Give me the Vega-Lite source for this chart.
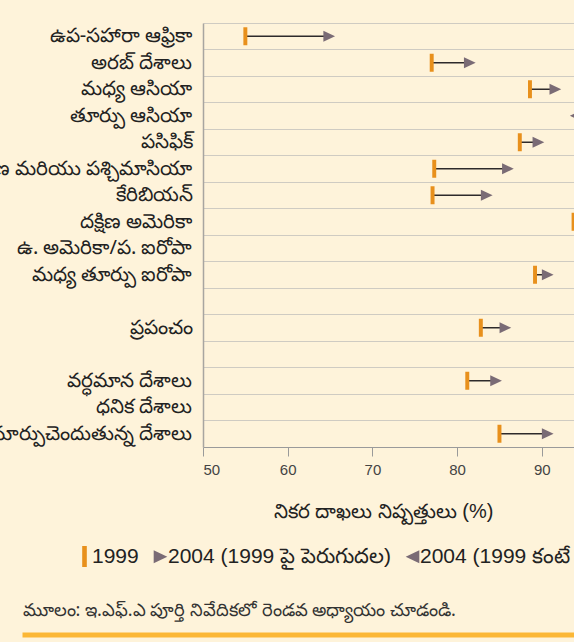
{
  "$schema": "https://vega.github.io/schema/vega-lite/v6.json",
  "width": 371,
  "height": 424,
  "autosize": {"type": "none"},
  "padding": {"left": 203, "top": 23, "right": 0, "bottom": 195},
  "background": "#FEF3DA",
  "config": {"view": {"stroke": null}, "font": "Liberation Sans"},
  "data": {
    "values": [
      {"region": "ఉప-సహారా ఆఫ్రికా", "v1999": 55.0, "v2004": 64.9, "change": "2004 (1999 పై పెరుగుదల)"},
      {"region": "అరబ్ దేశాలు", "v1999": 77.0, "v2004": 81.5, "change": "2004 (1999 పై పెరుగుదల)"},
      {"region": "మధ్య ఆసియా", "v1999": 88.6, "v2004": 91.6, "change": "2004 (1999 పై పెరుగుదల)"},
      {"region": "తూర్పు ఆసియా", "v1999": 96.5, "v2004": 94.0, "change": "2004 (1999 కంటే తగ్గుదల)"},
      {"region": "పసిఫిక్", "v1999": 87.4, "v2004": 89.6, "change": "2004 (1999 పై పెరుగుదల)"},
      {"region": "దక్షిణ మరియు పశ్చిమాసియా", "v1999": 77.3, "v2004": 86.0, "change": "2004 (1999 పై పెరుగుదల)"},
      {"region": "కేరిబియన్", "v1999": 77.1, "v2004": 83.5, "change": "2004 (1999 పై పెరుగుదల)"},
      {"region": "దక్షిణ అమెరికా", "v1999": 93.75, "v2004": 95.5, "change": "2004 (1999 పై పెరుగుదల)"},
      {"region": "ఉ. అమెరికా/ప. ఐరోపా", "v1999": 96.5, "v2004": 96.0, "change": "2004 (1999 కంటే తగ్గుదల)"},
      {"region": "మధ్య తూర్పు ఐరోపా", "v1999": 89.2, "v2004": 90.7, "change": "2004 (1999 పై పెరుగుదల)"},
      {"region": "ప్రపంచం", "v1999": 82.8, "v2004": 85.7, "change": "2004 (1999 పై పెరుగుదల)"},
      {"region": "వర్ధమాన దేశాలు", "v1999": 81.2, "v2004": 84.6, "change": "2004 (1999 పై పెరుగుదల)"},
      {"region": "ధనిక దేశాలు", "v1999": 96.0, "v2004": 95.8, "change": "2004 (1999 కంటే తగ్గుదల)"},
      {"region": "మార్పుచెందుతున్న దేశాలు", "v1999": 85.0, "v2004": 90.7, "change": "2004 (1999 పై పెరుగుదల)"}
    ]
  },
  "layer": [
    {
      "layer": [
        {
          "mark": {"type": "rule", "color": "#2e2a2b", "strokeWidth": 1.5, "clip": true},
          "encoding": {
            "y": {
              "field": "region", "type": "nominal",
              "scale": {
                "domain": ["ఉప-సహారా ఆఫ్రికా", "అరబ్ దేశాలు", "మధ్య ఆసియా", "తూర్పు ఆసియా", "పసిఫిక్", "దక్షిణ మరియు పశ్చిమాసియా", "కేరిబియన్", "దక్షిణ అమెరికా", "ఉ. అమెరికా/ప. ఐరోపా", "మధ్య తూర్పు ఐరోపా", " ", "ప్రపంచం", "  ", "వర్ధమాన దేశాలు", "ధనిక దేశాలు", "మార్పుచెందుతున్న దేశాలు"],
                "paddingInner": 0, "paddingOuter": 0
              },
              "axis": {
                "title": null, "ticks": false, "domain": true, "domainColor": "#a8a5a0", "domainWidth": 1.5,
                "grid": true, "bandPosition": 0, "gridColor": "#cfcbc2", "gridWidth": 1.2,
                "labelPadding": 11, "labelFontSize": 20, "labelColor": "#222222", "labelFont": "Noto Sans", "labelLimit": 400
              }
            },
            "x": {
              "field": "v1999", "type": "quantitative",
              "scale": {"domain": [50, 93.8], "nice": false, "zero": false},
              "axis": {
                "orient": "bottom", "values": [50, 60, 70, 80, 90], "grid": false,
                "domainColor": "#9a9a9a", "tickColor": "#9a9a9a", "tickSize": 9,
                "labelFontSize": 15, "labelColor": "#444444", "labelPadding": 6,
                "title": "నికర దాఖలు నిష్పత్తులు (%)", "titleFontSize": 20, "titleFontWeight": "normal",
                "titleColor": "#222222", "titleX": 180, "titleY": 64, "titleBaseline": "middle", "titleAlign": "center"
              }
            },
            "x2": {"field": "v2004"}
          }
        },
        {
          "mark": {"type": "point", "filled": true, "size": 324, "opacity": 1, "clip": true},
          "encoding": {
            "y": {"field": "region", "type": "nominal"},
            "x": {"field": "v1999", "type": "quantitative"},
            "color": {
              "datum": "1999",
              "scale": {
                "domain": ["1999", "2004 (1999 పై పెరుగుదల)", "2004 (1999 కంటే తగ్గుదల)"],
                "range": ["#E8901C", "#7a6b75", "#7a6b75"]
              },
              "legend": {
                "title": null, "orient": "none", "direction": "horizontal", "legendX": -129, "legendY": 523,
                "padding": 0, "symbolSize": 441, "symbolStrokeWidth": 0, "labelFontSize": 21, "labelColor": "#222222",
                "labelOffset": -3, "columnPadding": 11, "labelLimit": 400, "symbolOpacity": 1
              }
            },
            "shape": {
              "datum": "1999",
              "scale": {
                "domain": ["1999", "2004 (1999 పై పెరుగుదల)", "2004 (1999 కంటే తగ్గుదల)"],
                "range": ["M-0.22,-1L0.22,-1L0.22,1L-0.22,1Z", "M0.65,0L-0.65,-0.62L-0.65,0.62Z", "M-0.65,0L0.65,-0.62L0.65,0.62Z"]
              },
              "legend": {
                "title": null, "orient": "none", "direction": "horizontal", "legendX": -129, "legendY": 523,
                "padding": 0, "symbolSize": 441, "symbolStrokeWidth": 0, "labelFontSize": 21, "labelColor": "#222222",
                "labelOffset": -3, "columnPadding": 11, "labelLimit": 400, "symbolOpacity": 1
              }
            }
          }
        },
        {
          "mark": {"type": "point", "filled": true, "size": 324, "opacity": 1, "clip": true},
          "encoding": {
            "y": {"field": "region", "type": "nominal"},
            "x": {"field": "v2004", "type": "quantitative"},
            "color": {"field": "change", "type": "nominal", "legend": {"title": null}},
            "shape": {"field": "change", "type": "nominal", "legend": {"title": null}}
          }
        }
      ]
    },
    {
      "mark": {"type": "rule", "opacity": 0},
      "encoding": {
        "x": {
          "datum": 0, "type": "quantitative",
          "scale": {"domain": [0, 1], "range": [-181, 371]},
          "axis": {
            "orient": "bottom", "offset": 187.5, "labels": false, "ticks": false, "grid": false,
            "domainColor": "#FBB736", "domainWidth": 5,
            "title": "మూలం: ఇ.ఎఫ్.ఎ పూర్తి నివేదికలో రెండవ అధ్యాయం చూడండి.",
            "titleFont": "Noto Sans", "titleFontSize": 18, "titleFontWeight": "normal", "titleColor": "#333333",
            "titleX": -181, "titleY": -19, "titleAlign": "left", "titleBaseline": "alphabetic"
          }
        }
      }
    }
  ],
  "resolve": {"scale": {"x": "independent"}, "axis": {"x": "independent"}}
}
